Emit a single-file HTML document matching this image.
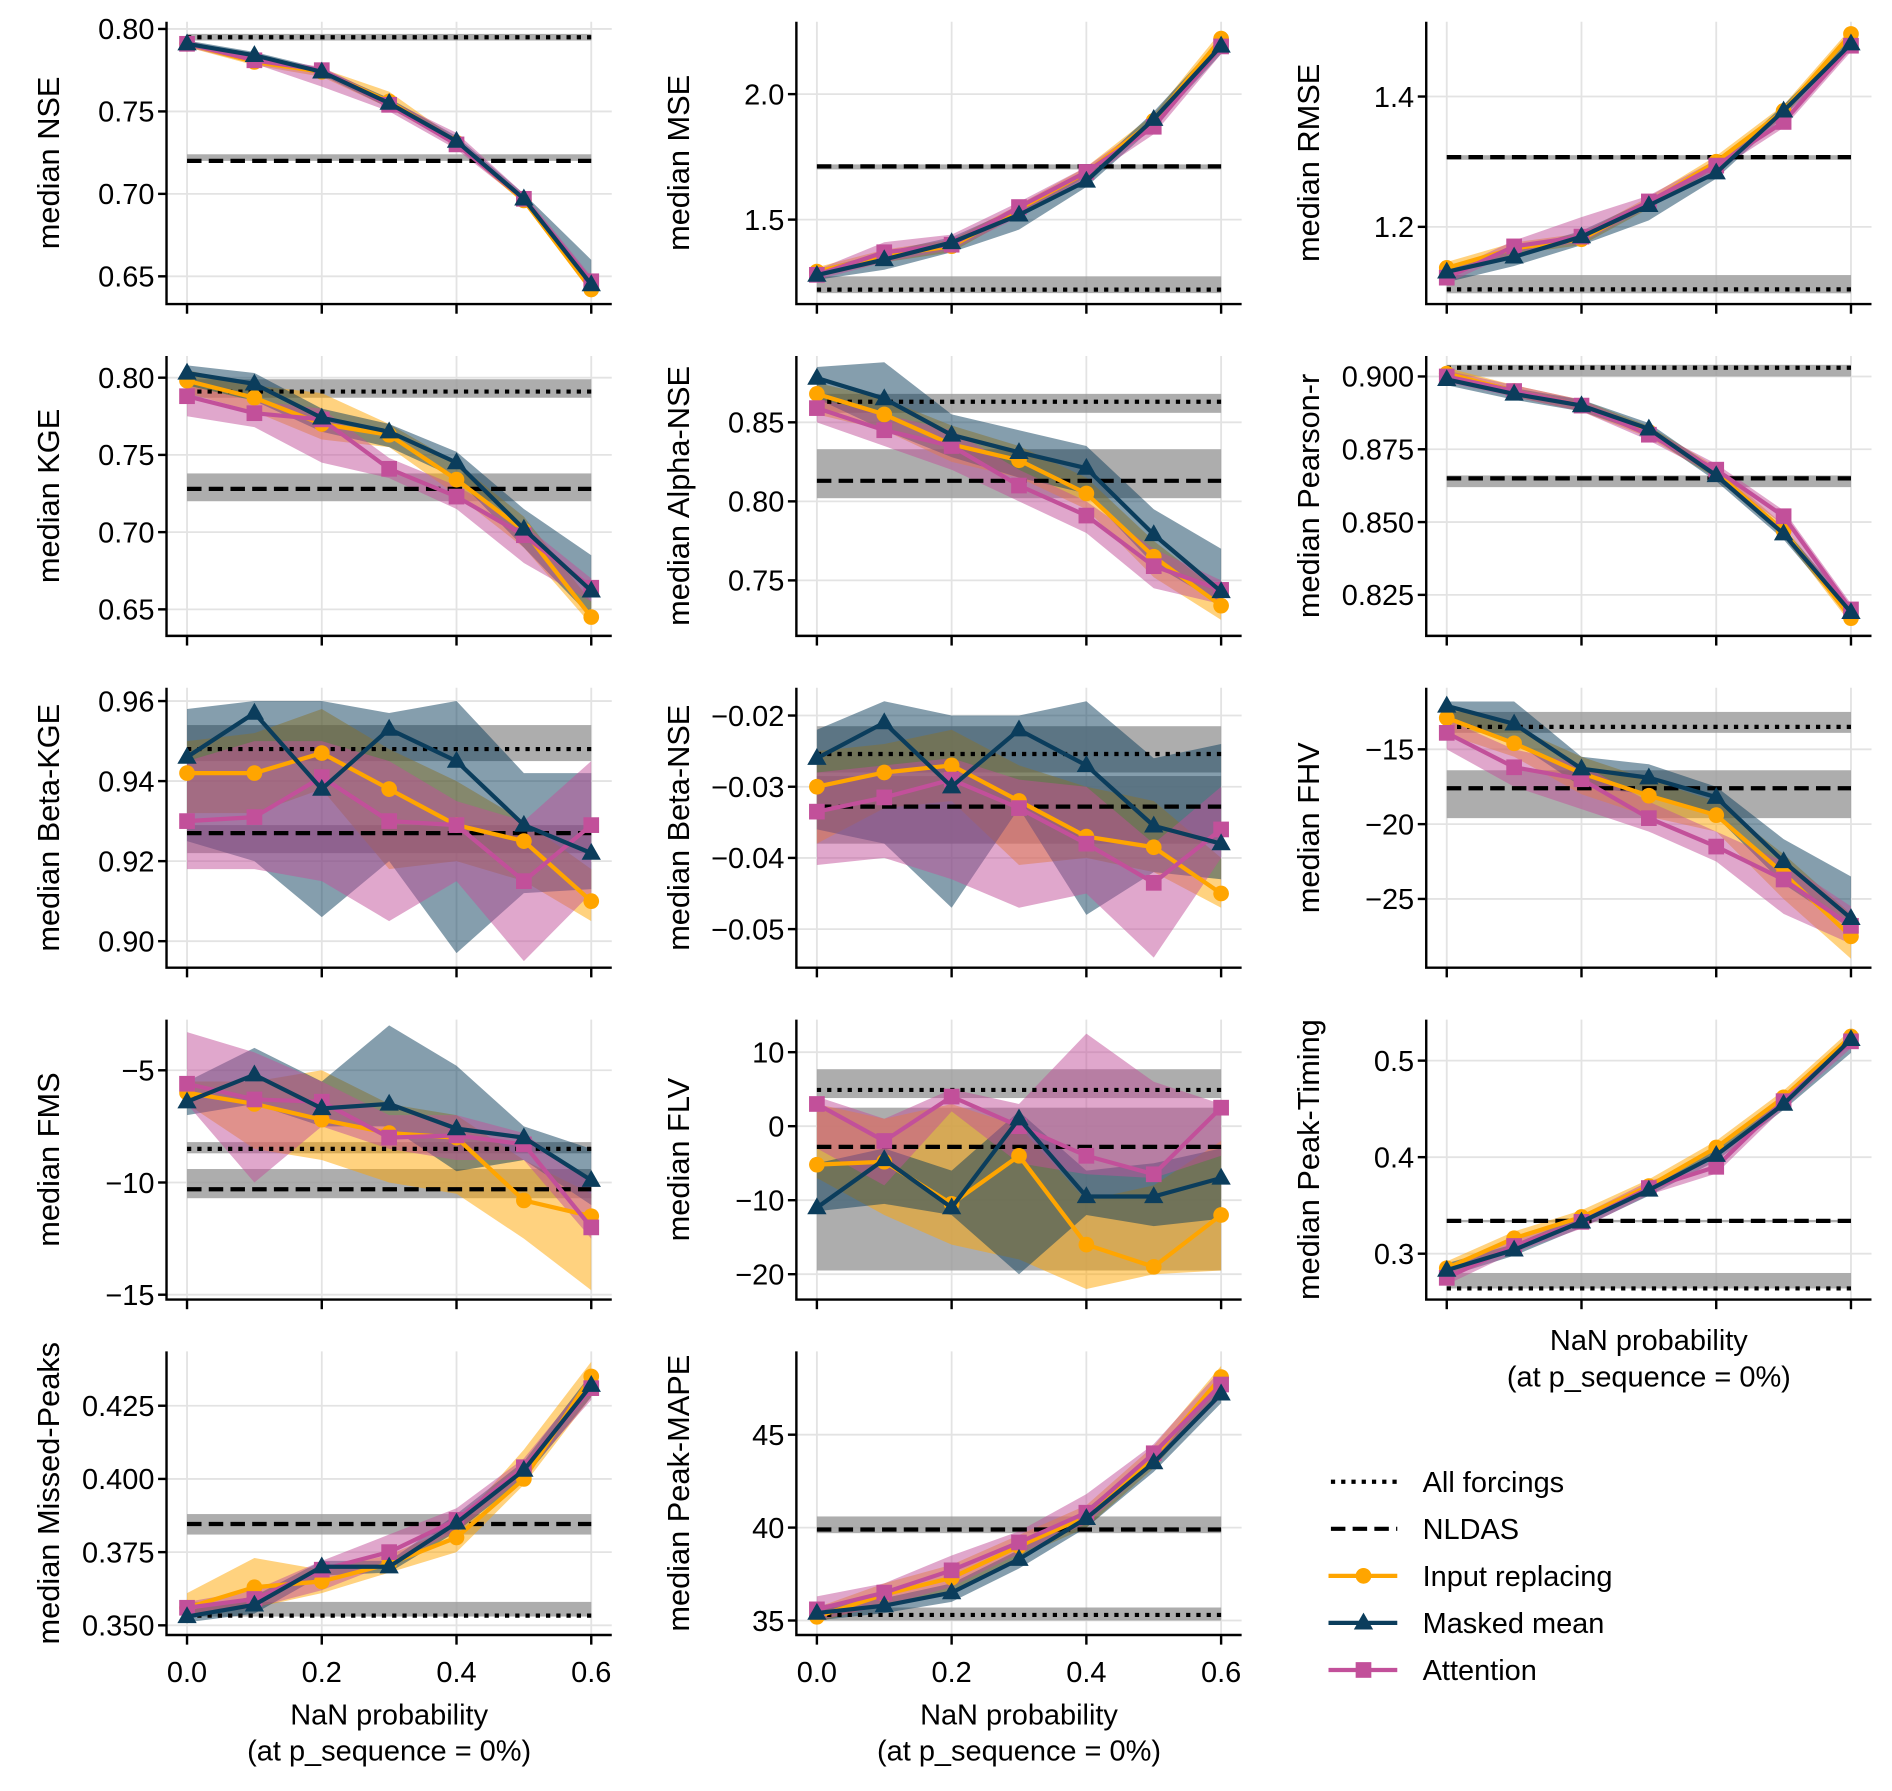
<!DOCTYPE html>
<html><head><meta charset="utf-8">
<style>
html,body{margin:0;padding:0;background:#fff;}
svg{display:block;font-family:"Liberation Sans",sans-serif;}
</style></head>
<body>
<svg id="fig" width="1892" height="1791" viewBox="0 0 1568 1484.3" xmlns="http://www.w3.org/2000/svg"></svg>
<script>
const xValues = [0,0.1,0.2,0.3,0.4,0.5,0.6];
const xTicks = [0,0.2,0.4,0.6];
const xTickLabels = ["0.0","0.2","0.4","0.6"];
const seriesNames = ["Input replacing","Masked mean","Attention"];
const refNames = ["All forcings","NLDAS"];

// NSE
const nseIR=[.791,.780,.774,.756,.731,.696,.642], nseIRlo=[.789,.778,.771,.752,.729,.694,.640], nseIRhi=[.793,.782,.776,.762,.733,.698,.645];
const nseMM=[.791,.784,.774,.755,.732,.697,.645], nseMMlo=[.789,.782,.772,.752,.730,.695,.642], nseMMhi=[.793,.786,.776,.758,.735,.700,.660];
const nseAT=[.791,.781,.775,.754,.730,.697,.647], nseATlo=[.789,.779,.765,.750,.727,.695,.644], nseAThi=[.793,.783,.777,.757,.737,.700,.650];
const nseRef=[.795,.720], nseRefLo=[.793,.720], nseRefHi=[.797,.724];
// MSE
const mseIR=[1.293,1.356,1.394,1.543,1.688,1.894,2.221], mseIRlo=[1.27,1.33,1.37,1.52,1.67,1.87,2.19], mseIRhi=[1.31,1.38,1.42,1.56,1.71,1.92,2.25];
const mseMM=[1.279,1.341,1.409,1.519,1.654,1.900,2.192], mseMMlo=[1.26,1.30,1.37,1.46,1.63,1.87,2.16], mseMMhi=[1.30,1.37,1.43,1.55,1.68,1.93,2.22];
const mseAT=[1.28,1.37,1.40,1.55,1.69,1.87,2.19], mseATlo=[1.26,1.33,1.38,1.51,1.66,1.84,2.16], mseAThi=[1.30,1.41,1.44,1.57,1.71,1.90,2.22];
const mseRef=[1.221,1.712], mseRefLo=[1.207,1.70], mseRefHi=[1.274,1.72];
// RMSE
const rmseIR=[1.137,1.167,1.181,1.237,1.300,1.378,1.496], rmseIRlo=[1.128,1.158,1.172,1.228,1.291,1.369,1.487], rmseIRhi=[1.146,1.176,1.190,1.246,1.309,1.387,1.505];
const rmseMM=[1.131,1.154,1.185,1.233,1.283,1.378,1.481], rmseMMlo=[1.115,1.140,1.172,1.210,1.274,1.369,1.472], rmseMMhi=[1.140,1.163,1.194,1.242,1.292,1.387,1.490];
const rmseAT=[1.122,1.170,1.185,1.239,1.294,1.361,1.478], rmseATlo=[1.113,1.161,1.176,1.230,1.285,1.352,1.469], rmseAThi=[1.131,1.179,1.215,1.248,1.303,1.370,1.487];
const rmseRef=[1.104,1.307], rmseRefLo=[1.098,1.303], rmseRefHi=[1.126,1.310];
// KGE
const kgeIR=[.798,.787,.770,.763,.734,.701,.645], kgeIRlo=[.790,.778,.760,.755,.724,.690,.640], kgeIRhi=[.805,.795,.790,.770,.745,.710,.655];
const kgeMM=[.803,.796,.774,.765,.745,.702,.662], kgeMMlo=[.795,.785,.765,.755,.735,.690,.645], kgeMMhi=[.808,.803,.780,.770,.752,.715,.685];
const kgeAT=[.788,.777,.773,.741,.723,.698,.664], kgeATlo=[.775,.768,.745,.735,.715,.680,.655], kgeAThi=[.795,.785,.780,.748,.730,.705,.670];
const kgeRef=[.791,.728], kgeRefLo=[.787,.720], kgeRefHi=[.799,.738];
// Alpha-NSE
const anseIR=[.868,.855,.836,.826,.805,.765,.734], anseIRlo=[.855,.845,.825,.815,.795,.752,.725], anseIRhi=[.875,.865,.848,.835,.815,.775,.742];
const anseMM=[.878,.865,.842,.831,.821,.779,.743], anseMMlo=[.865,.845,.828,.815,.805,.760,.735], anseMMhi=[.885,.888,.855,.845,.835,.795,.770];
const anseAT=[.859,.845,.835,.810,.791,.759,.744], anseATlo=[.850,.835,.820,.800,.780,.745,.735], anseAThi=[.865,.855,.845,.820,.800,.770,.750];
const anseRef=[.863,.813], anseRefLo=[.856,.802], anseRefHi=[.868,.833];
// Pearson-r
const prIR=[.901,.895,.890,.881,.867,.847,.817], prIRlo=[.899,.893,.888,.879,.865,.845,.815], prIRhi=[.903,.897,.892,.883,.869,.849,.819];
const prMM=[.899,.894,.890,.882,.866,.846,.819], prMMlo=[.897,.892,.888,.880,.864,.844,.817], prMMhi=[.901,.896,.892,.884,.868,.848,.821];
const prAT=[.900,.895,.890,.880,.868,.852,.820], prATlo=[.898,.893,.888,.878,.866,.849,.818], prAThi=[.902,.897,.892,.882,.870,.854,.822];
const prRef=[.903,.865], prRefLo=[.900,.862], prRefHi=[.904,.866];
// Beta-KGE
const bkIR=[.942,.942,.947,.938,.929,.925,.910], bkIRlo=[.932,.932,.938,.918,.920,.915,.905], bkIRhi=[.950,.952,.958,.948,.940,.930,.918];
const bkMM=[.946,.957,.938,.953,.945,.929,.922], bkMMlo=[.925,.920,.906,.920,.897,.912,.913], bkMMhi=[.958,.960,.960,.957,.960,.942,.942];
const bkAT=[.930,.931,.941,.930,.929,.915,.929], bkATlo=[.918,.918,.915,.905,.915,.895,.912], bkAThi=[.945,.950,.950,.945,.935,.930,.945];
const bkRef=[.948,.927], bkRefLo=[.945,.922], bkRefHi=[.954,.929];
// Beta-NSE
const bnIR=[-.030,-.028,-.027,-.032,-.037,-.0385,-.045], bnIRlo=[-.038,-.033,-.032,-.041,-.040,-.042,-.047], bnIRhi=[-.025,-.024,-.022,-.027,-.030,-.032,-.040];
const bnMM=[-.026,-.021,-.030,-.022,-.027,-.0355,-.038], bnMMlo=[-.036,-.038,-.047,-.033,-.048,-.042,-.043], bnMMhi=[-.022,-.018,-.020,-.020,-.018,-.026,-.024];
const bnAT=[-.0335,-.0315,-.029,-.033,-.038,-.0435,-.036], bnATlo=[-.041,-.040,-.043,-.047,-.045,-.054,-.040], bnAThi=[-.028,-.027,-.026,-.029,-.030,-.038,-.030];
const bnRef=[-.0254,-.0328], bnRefLo=[-.028,-.038], bnRefHi=[-.0215,-.0285];
// FHV
const fhvIR=[-12.9,-14.6,-16.6,-18.1,-19.4,-23.3,-27.5], fhvIRlo=[-14,-15.5,-18,-19.5,-20.5,-25,-29], fhvIRhi=[-12,-13.5,-15.5,-17,-18.5,-22,-26];
const fhvMM=[-12.1,-13.3,-16.3,-16.9,-18.2,-22.5,-26.3], fhvMMlo=[-12.8,-14.5,-17.5,-18,-19.5,-24,-27], fhvMMhi=[-11.8,-11.8,-15.5,-16,-17.5,-21,-23.5];
const fhvAT=[-13.9,-16.2,-17.0,-19.6,-21.5,-23.7,-26.8], fhvATlo=[-15,-17.5,-19,-20.5,-22.5,-26,-28], fhvAThi=[-13,-15,-16,-18.5,-20.5,-22.5,-25.5];
const fhvRef=[-13.5,-17.6], fhvRefLo=[-13.9,-19.6], fhvRefHi=[-12.5,-16.4];
// FMS
const fmsIR=[-6.0,-6.5,-7.2,-7.8,-8.0,-10.8,-11.5], fmsIRlo=[-6.5,-8.5,-9.0,-10.0,-10.5,-12.5,-14.8], fmsIRhi=[-5.5,-5.5,-5.0,-6.5,-7.0,-9.0,-10.5];
const fmsMM=[-6.4,-5.2,-6.7,-6.5,-7.6,-8.0,-9.9], fmsMMlo=[-7.0,-6.5,-7.5,-7.5,-9.5,-9.0,-11.0], fmsMMhi=[-5.5,-4.0,-5.5,-3.0,-4.8,-7.5,-8.5];
const fmsAT=[-5.6,-6.3,-6.4,-8.0,-7.9,-8.3,-12.0], fmsATlo=[-6.5,-10.0,-7.5,-8.5,-9.0,-9.0,-12.5], fmsAThi=[-3.3,-4.2,-5.5,-7.0,-7.0,-7.8,-10.0];
const fmsRef=[-8.5,-10.3], fmsRefLo=[-8.7,-10.7], fmsRefHi=[-8.2,-9.4];
// FLV
const flvIR=[-5.2,-4.8,-10.5,-4.0,-16.0,-19.0,-12.0], flvIRlo=[-7,-12,-16,-18,-22,-20,-19.5], flvIRhi=[3,1,3,0,-10,-8,-2];
const flvMM=[-11.0,-4.5,-11.0,1.0,-9.5,-9.5,-7.0], flvMMlo=[-11.5,-10.5,-12,-20,-12,-13.5,-12.5], flvMMhi=[-5,-3,-6,2,-6,-5,-3];
const flvAT=[3.0,-2.0,4.0,0.0,-4.0,-6.5,2.5], flvATlo=[-3,-8,2,-5,-6.5,-7,-4], flvAThi=[4,1,5,3,12.5,6,3];
const flvRef=[4.9,-2.8], flvRefLo=[3.8,-19.5], flvRefHi=[7.7,2.5];
// Peak-Timing
const ptIR=[.285,.316,.338,.370,.410,.462,.525], ptIRlo=[.278,.309,.331,.363,.403,.455,.518], ptIRhi=[.292,.323,.345,.377,.417,.469,.532];
const ptMM=[.283,.304,.333,.366,.402,.455,.522], ptMMlo=[.276,.298,.327,.360,.396,.449,.508], ptMMhi=[.290,.310,.339,.372,.408,.461,.528];
const ptAT=[.275,.308,.333,.368,.390,.458,.520], ptATlo=[.268,.301,.326,.361,.383,.451,.513], ptAThi=[.282,.315,.340,.375,.397,.465,.527];
const ptRef=[.264,.334], ptRefLo=[.264,.333], ptRefHi=[.280,.335];
// Missed-Peaks
const mpIR=[.356,.363,.365,.371,.380,.400,.435], mpIRlo=[.353,.356,.361,.368,.375,.398,.428], mpIRhi=[.361,.373,.369,.374,.384,.410,.440];
const mpMM=[.353,.357,.370,.370,.385,.403,.432], mpMMlo=[.351,.354,.367,.368,.382,.400,.428], mpMMhi=[.355,.360,.372,.372,.388,.406,.436];
const mpAT=[.356,.359,.369,.375,.386,.404,.431], mpATlo=[.353,.356,.362,.371,.382,.401,.427], mpAThi=[.358,.362,.372,.381,.390,.407,.435];
const mpRef=[.3533,.3846], mpRefLo=[.353,.381], mpRefHi=[.358,.388];
// Peak-MAPE
const pmIR=[35.2,36.4,37.3,39.0,40.6,43.8,48.1], pmIRlo=[34.9,35.9,36.6,38.4,40.0,43.2,47.4], pmIRhi=[35.7,37.0,38.0,39.6,41.2,44.4,48.7];
const pmMM=[35.4,35.8,36.5,38.3,40.5,43.5,47.2], pmMMlo=[35.0,35.4,36.0,37.8,40.0,43.0,46.7], pmMMhi=[35.8,36.2,37.0,38.8,41.0,44.0,47.7];
const pmAT=[35.6,36.5,37.7,39.2,40.8,44.0,47.7], pmATlo=[35.0,35.8,36.8,38.6,40.2,43.4,47.0], pmAThi=[36.3,37.0,38.5,39.8,41.8,44.5,48.5];
const pmRef=[35.3,39.9], pmRefLo=[35.0,39.7], pmRefHi=[35.7,40.6];

const NS="http://www.w3.org/2000/svg";
const svg=document.getElementById('fig');
const COLORS=["#FFA500","#0B3D5C","#C2509A"];
const rows=[[18,252],[295,527],[570,802],[845,1077],[1120,1355]];
const cols=[155,677,1199];
const XW=335;

function mk(tag,attrs,parent){const e=document.createElementNS(NS,tag);for(const k in attrs)e.setAttribute(k,attrs[k]);(parent||svg).appendChild(e);return e;}

const panels=[
 {key:"nse",label:"median NSE",c:0,r:0,t1:[0.80,24],t2:[0.65,229],ticks:[0.65,0.70,0.75,0.80],dec:2,s:[[nseIR,nseIRlo,nseIRhi],[nseMM,nseMMlo,nseMMhi],[nseAT,nseATlo,nseAThi]],ref:[nseRef,nseRefLo,nseRefHi]},
 {key:"mse",label:"median MSE",c:1,r:0,t1:[2.0,78],t2:[1.5,182],ticks:[1.5,2.0],dec:1,s:[[mseIR,mseIRlo,mseIRhi],[mseMM,mseMMlo,mseMMhi],[mseAT,mseATlo,mseAThi]],ref:[mseRef,mseRefLo,mseRefHi]},
 {key:"rmse",label:"median RMSE",c:2,r:0,t1:[1.4,80],t2:[1.2,188],ticks:[1.2,1.4],dec:1,s:[[rmseIR,rmseIRlo,rmseIRhi],[rmseMM,rmseMMlo,rmseMMhi],[rmseAT,rmseATlo,rmseAThi]],ref:[rmseRef,rmseRefLo,rmseRefHi]},
 {key:"kge",label:"median KGE",c:0,r:1,t1:[0.80,313],t2:[0.65,505],ticks:[0.65,0.70,0.75,0.80],dec:2,s:[[kgeIR,kgeIRlo,kgeIRhi],[kgeMM,kgeMMlo,kgeMMhi],[kgeAT,kgeATlo,kgeAThi]],ref:[kgeRef,kgeRefLo,kgeRefHi]},
 {key:"alpha-nse",label:"median Alpha-NSE",c:1,r:1,t1:[0.85,350],t2:[0.75,481],ticks:[0.75,0.80,0.85],dec:2,s:[[anseIR,anseIRlo,anseIRhi],[anseMM,anseMMlo,anseMMhi],[anseAT,anseATlo,anseAThi]],ref:[anseRef,anseRefLo,anseRefHi]},
 {key:"pearson-r",label:"median Pearson-r",c:2,r:1,t1:[0.900,312],t2:[0.825,493],ticks:[0.825,0.850,0.875,0.900],dec:3,s:[[prIR,prIRlo,prIRhi],[prMM,prMMlo,prMMhi],[prAT,prATlo,prAThi]],ref:[prRef,prRefLo,prRefHi]},
 {key:"beta-kge",label:"median Beta-KGE",c:0,r:2,t1:[0.96,581],t2:[0.90,780],ticks:[0.90,0.92,0.94,0.96],dec:2,s:[[bkIR,bkIRlo,bkIRhi],[bkMM,bkMMlo,bkMMhi],[bkAT,bkATlo,bkAThi]],ref:[bkRef,bkRefLo,bkRefHi]},
 {key:"beta-nse",label:"median Beta-NSE",c:1,r:2,t1:[-0.02,593],t2:[-0.05,770],ticks:[-0.05,-0.04,-0.03,-0.02],dec:2,s:[[bnIR,bnIRlo,bnIRhi],[bnMM,bnMMlo,bnMMhi],[bnAT,bnATlo,bnAThi]],ref:[bnRef,bnRefLo,bnRefHi]},
 {key:"fhv",label:"median FHV",c:2,r:2,t1:[-15,621],t2:[-25,745],ticks:[-25,-20,-15],dec:0,s:[[fhvIR,fhvIRlo,fhvIRhi],[fhvMM,fhvMMlo,fhvMMhi],[fhvAT,fhvATlo,fhvAThi]],ref:[fhvRef,fhvRefLo,fhvRefHi]},
 {key:"fms",label:"median FMS",c:0,r:3,t1:[-5,887],t2:[-15,1073],ticks:[-15,-10,-5],dec:0,s:[[fmsIR,fmsIRlo,fmsIRhi],[fmsMM,fmsMMlo,fmsMMhi],[fmsAT,fmsATlo,fmsAThi]],ref:[fmsRef,fmsRefLo,fmsRefHi]},
 {key:"flv",label:"median FLV",c:1,r:3,t1:[10,872],t2:[-20,1056],ticks:[-20,-10,0,10],dec:0,s:[[flvIR,flvIRlo,flvIRhi],[flvMM,flvMMlo,flvMMhi],[flvAT,flvATlo,flvAThi]],ref:[flvRef,flvRefLo,flvRefHi]},
 {key:"peak-timing",label:"median Peak-Timing",c:2,r:3,t1:[0.5,879],t2:[0.3,1039],ticks:[0.3,0.4,0.5],dec:1,s:[[ptIR,ptIRlo,ptIRhi],[ptMM,ptMMlo,ptMMhi],[ptAT,ptATlo,ptAThi]],ref:[ptRef,ptRefLo,ptRefHi],xlab:true},
 {key:"missed-peaks",label:"median Missed-Peaks",c:0,r:4,t1:[0.425,1165],t2:[0.350,1347],ticks:[0.350,0.375,0.400,0.425],dec:3,s:[[mpIR,mpIRlo,mpIRhi],[mpMM,mpMMlo,mpMMhi],[mpAT,mpATlo,mpAThi]],ref:[mpRef,mpRefLo,mpRefHi],xlab:true,xticks:true},
 {key:"peak-mape",label:"median Peak-MAPE",c:1,r:4,t1:[45,1189],t2:[35,1343],ticks:[35,40,45],dec:0,s:[[pmIR,pmIRlo,pmIRhi],[pmMM,pmMMlo,pmMMhi],[pmAT,pmATlo,pmAThi]],ref:[pmRef,pmRefLo,pmRefHi],xlab:true,xticks:true}
];

function fmt(v,d){let s=v.toFixed(d);return s.replace('-','\u2212');}

function marker(g,type,x,y,color){
  let e;
  if(type===0){e=mk('circle',{cx:x,cy:y,r:6.5,fill:color},g);}
  else if(type===1){e=mk('path',{d:`M${x},${y-8.5} L${x+8},${y+5.5} L${x-8},${y+5.5} Z`,fill:color},g);}
  else {e=mk('rect',{x:x-6.5,y:y-6.5,width:13,height:13,fill:color},g);}
  return e;
}

panels.forEach(p=>{
  const g=mk('g',{});
  
  
  const x0=cols[p.c], top=rows[p.r][0], bot=rows[p.r][1];
  const xs=v=>x0+v/0.6*XW;
  const k=(p.t2[1]-p.t1[1])/(p.t2[0]-p.t1[0]);
  const ys=v=>p.t1[1]+(v-p.t1[0])*k;
  const left=x0-17,right=x0+XW+17;
  xTicks.forEach(t=>{const l=mk('line',{x1:xs(t),x2:xs(t),y1:top,y2:bot,stroke:'#e3e3e3','stroke-width':1.5},g);});
  p.ticks.forEach(t=>{const l=mk('line',{x1:left,x2:right,y1:ys(t),y2:ys(t),stroke:'#e3e3e3','stroke-width':1.5},g);});
  const xa=xs(0),xb=xs(0.6);
  [0,1].forEach(i=>{
    const r=mk('rect',{x:xa,width:xb-xa,y:ys(p.ref[2][i]),height:Math.max(2,ys(p.ref[1][i])-ys(p.ref[2][i])),fill:'#999','fill-opacity':0.8},g);
    
    
  });
  p.s.forEach((s,si)=>{
    let d='';
    xValues.forEach((xv,i)=>{d+=(i?'L':'M')+xs(xv)+','+ys(s[2][i]);});
    for(let i=xValues.length-1;i>=0;i--)d+='L'+xs(xValues[i])+','+ys(s[1][i]);
    const b=mk('path',{d:d+'Z',fill:COLORS[si],'fill-opacity':0.5},g);
    
    
  });
  [0,1].forEach(i=>{
    const l=mk('line',{x1:xa,x2:xb,y1:ys(p.ref[0][i]),y2:ys(p.ref[0][i]),stroke:'#000','stroke-width':3.5,'stroke-dasharray':i===0?'3.5,5':'12,6'},g);
    
    
  });
  [0,2,1].forEach(si=>{
    const s=p.s[si];
    const pts=xValues.map((xv,i)=>xs(xv)+','+ys(s[0][i])).join(' ');
    const l=mk('polyline',{points:pts,fill:'none',stroke:COLORS[si],'stroke-width':3.5},g);
    
    
    xValues.forEach((xv,i)=>{
      const m=marker(g,si,xs(xv),ys(s[0][i]),COLORS[si]);
      
      
    });
  });
  const sp=mk('path',{d:`M${left},${top} L${left},${bot} L${right},${bot}`,fill:'none',stroke:'#000','stroke-width':2},g);
  
  
  p.ticks.forEach(t=>{
    const tk=mk('line',{x1:left-7,x2:left,y1:ys(t),y2:ys(t),stroke:'#000','stroke-width':2},g);
    
    
    const tx=mk('text',{x:left-10,y:ys(t)+8.5,'text-anchor':'end','font-size':24,fill:'#000'},g);
    tx.textContent=fmt(t,p.dec);
    
    
  });
  xTicks.forEach((t,i)=>{
    const tk=mk('line',{x1:xs(t),x2:xs(t),y1:bot,y2:bot+8,stroke:'#000','stroke-width':2},g);
    
    
    if(p.xticks){
      const tx=mk('text',{x:xs(t),y:bot+39,'text-anchor':'middle','font-size':24,fill:'#000'},g);
      tx.textContent=xTickLabels[i];
      
      
    }
  });
  if(p.xlab){
    const off=p.xticks?65:33;
    const t1=mk('text',{x:x0+XW/2,y:bot+off+9,'text-anchor':'middle','font-size':24,fill:'#000'},g);
    t1.textContent='NaN probability';
    
    
    const t2=mk('text',{x:x0+XW/2,y:bot+off+39,'text-anchor':'middle','font-size':24,fill:'#000'},g);
    t2.textContent='(at p_sequence = 0%)';
    
    
  }
  const lx=x0-106, ly=(top+bot)/2;
  const yl=mk('text',{x:lx,y:ly,'text-anchor':'middle','font-size':25.5,fill:'#000',transform:`rotate(-90 ${lx} ${ly})`},g);
  yl.textContent=p.label;
  
  
});

const lg=mk('g',{});


const legY=[1228,1267,1306,1345,1384];
const legLabels=[refNames[0],refNames[1],seriesNames[0],seriesNames[1],seriesNames[2]];
legLabels.forEach((lab,i)=>{
  const y=legY[i];
  const e=mk('g',{},lg);
  
  
  if(i<2){
    mk('line',{x1:1103,x2:1158,y1:y,y2:y,stroke:'#000','stroke-width':3.5,'stroke-dasharray':i===0?'3.5,5':'12,6'},e);
  } else {
    mk('line',{x1:1101,x2:1158,y1:y,y2:y,stroke:COLORS[i-2],'stroke-width':3.5},e);
    marker(e,i-2,1130,y,COLORS[i-2]);
  }
  const t=mk('text',{x:1179,y:y+8.5,'font-size':24,fill:'#000'},e);
  t.textContent=lab;
});
</script>
</body></html>
